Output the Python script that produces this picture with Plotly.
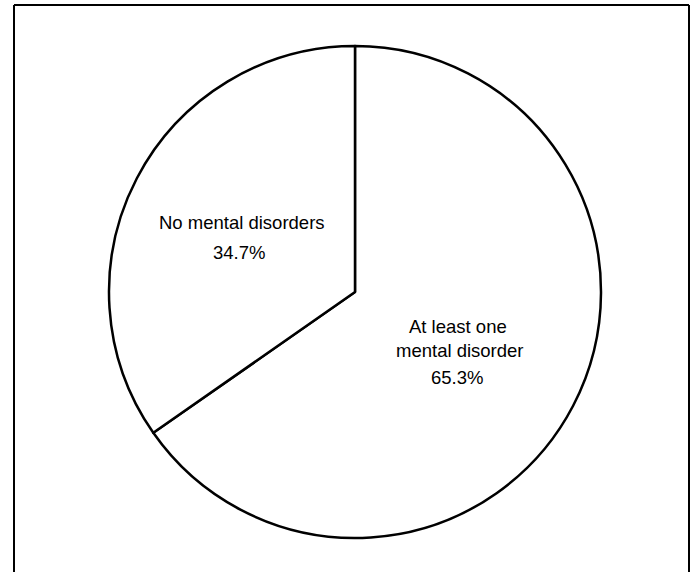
import plotly.graph_objects as go

W, H = 693, 572

categories = ["At least one mental disorder", "No mental disorders"]
values = [65.3, 34.7]
label_lines = [
    ["At least one", "mental disorder", "65.3%"],
    ["No mental disorders", "34.7%"],
]

def px(x):
    return x / W

def py(y):
    return 1 - y / H

fig = go.Figure()
fig.add_trace(go.Pie(
    labels=categories,
    values=values,
    sort=False,
    direction="clockwise",
    rotation=0,
    textinfo="none",
    hoverinfo="label+percent",
    marker=dict(colors=["white", "white"], line=dict(color="black", width=2.5)),
    domain=dict(x=[px(109), px(601)], y=[py(538), py(46)]),
    showlegend=False,
))

# label positions (pixel centres)
pos = [
    [(458, 326), (460, 350), (457, 377)],
    [(242, 223), (239, 252)],
]
for lines, ps in zip(label_lines, pos):
    for t, (x, y) in zip(lines, ps):
        fig.add_annotation(x=px(x), y=py(y), xref="paper", yref="paper",
                           text=t, showarrow=False, xanchor="center", yanchor="middle",
                           font=dict(family="Liberation Sans, Arial, sans-serif", size=18.5, color="black"))

# outer frame (no bottom edge visible)
frame = dict(color="black", width=2)
fig.add_shape(type="line", xref="paper", yref="paper", x0=px(14), x1=px(14), y0=py(5), y1=py(580), line=frame)
fig.add_shape(type="line", xref="paper", yref="paper", x0=px(14), x1=px(689), y0=py(5), y1=py(5), line=frame)
fig.add_shape(type="line", xref="paper", yref="paper", x0=px(689), x1=px(689), y0=py(5), y1=py(580), line=frame)

fig.update_layout(
    width=W, height=H,
    margin=dict(l=0, r=0, t=0, b=0),
    paper_bgcolor="white", plot_bgcolor="white",
)

fig.write_html("out.html", config={"displayModeBar": False},
               post_script="document.body.style.margin='0px';")
